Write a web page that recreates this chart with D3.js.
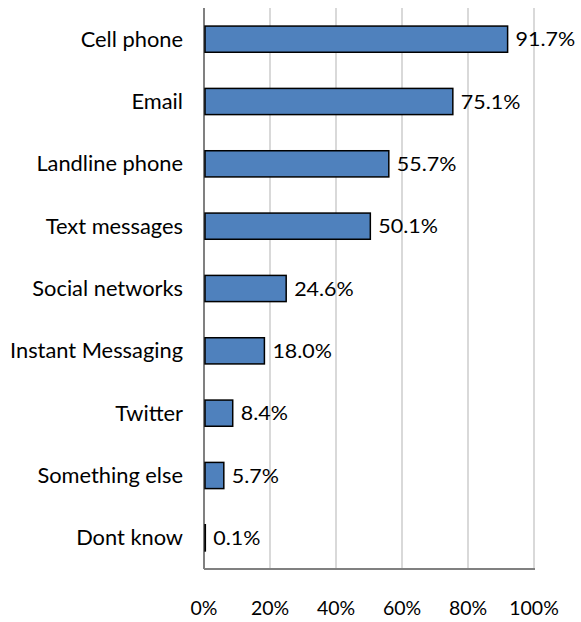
<!DOCTYPE html>
<html>
<head>
<meta charset="utf-8">
<script src="https://cdn.jsdelivr.net/npm/d3@7"></script>
<style>
  html, body { margin: 0; padding: 0; background: #fff; }
  text { font-family: Lato, "Open Sans", sans-serif; fill: #000; }
</style>
</head>
<body>
<svg id="chart" width="581" height="622"></svg>
<script>
const categories = ["Cell phone", "Email", "Landline phone", "Text messages", "Social networks",
  "Instant Messaging", "Twitter", "Something else", "Dont know"];
const values = [91.7, 75.1, 55.7, 50.1, 24.6, 18.0, 8.4, 5.7, 0.1];
const tickValues = [0, 20, 40, 60, 80, 100];

const svg = d3.select("#chart");
const plot = { left: 204, right: 534, top: 8, bottom: 569 };

const x = d3.scaleLinear().domain([0, 100]).range([plot.left, plot.right]);
const y = d3.scaleBand().domain(categories).range([plot.top, plot.bottom])
  .paddingInner(0.58).paddingOuter(0.29);

// text placed with a slight horizontal stretch, like the wide Calibri-style labels
const place = (px, py, sx) => `translate(${px},${py}) scale(${sx},1)`;

// vertical gridlines
svg.append("g").selectAll("line").data(tickValues.slice(1)).join("line")
  .attr("x1", d => x(d)).attr("x2", d => x(d))
  .attr("y1", plot.top).attr("y2", plot.bottom)
  .attr("stroke", "#d9d9d9").attr("stroke-width", 2);

// axis lines
svg.append("line").attr("x1", plot.left).attr("x2", plot.left)
  .attr("y1", plot.top).attr("y2", plot.bottom)
  .attr("stroke", "#808080").attr("stroke-width", 2);
svg.append("line").attr("x1", plot.left).attr("x2", plot.right + 1)
  .attr("y1", plot.bottom).attr("y2", plot.bottom)
  .attr("stroke", "#808080").attr("stroke-width", 2);

// bars (start just right of the axis line)
svg.append("g").selectAll("rect").data(values).join("rect")
  .attr("x", x(0) + 1)
  .attr("y", (d, i) => y(categories[i]))
  .attr("width", d => x(d) - x(0))
  .attr("height", y.bandwidth())
  .attr("fill", "#4f81bd")
  .attr("stroke", "#000").attr("stroke-width", 1.5);

// value labels
svg.append("g").selectAll("text").data(values).join("text")
  .attr("transform", (d, i) => place(x(d) + 9, y(categories[i]) + y.bandwidth() / 2, 1.1))
  .attr("dy", "0.36em")
  .attr("font-size", 19.5)
  .text(d => d.toFixed(1) + "%");

// category labels
svg.append("g").selectAll("text").data(categories).join("text")
  .attr("transform", d => place(183, y(d) + y.bandwidth() / 2, 1.04))
  .attr("dy", "0.36em")
  .attr("text-anchor", "end")
  .attr("font-size", 21)
  .text(d => d);

// x tick labels
svg.append("g").selectAll("text").data(tickValues).join("text")
  .attr("transform", d => place(x(d), 608, 1.0))
  .attr("dy", "0.36em")
  .attr("text-anchor", "middle")
  .attr("font-size", 19.5)
  .text(d => d + "%");
</script>
</body>
</html>
